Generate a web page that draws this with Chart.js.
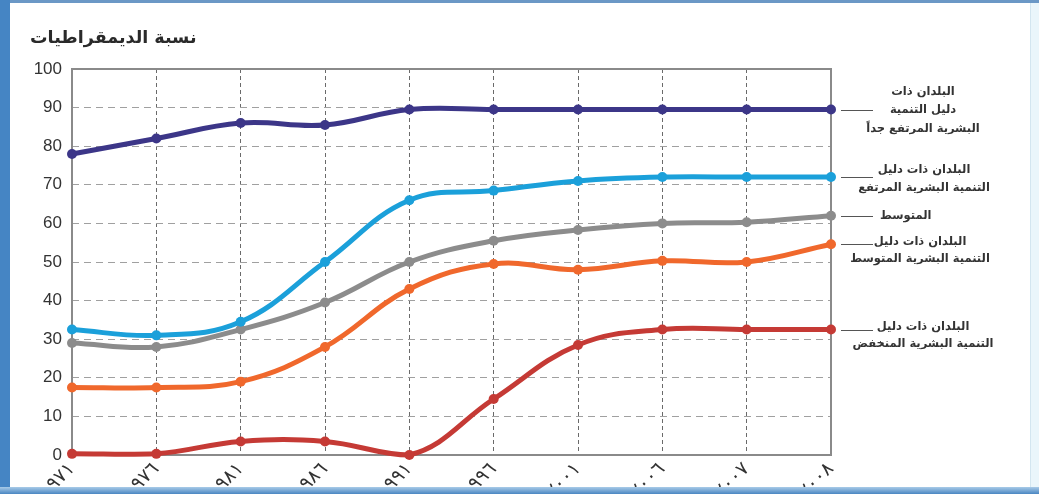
<!DOCTYPE html>
<html>
<head>
<meta charset="utf-8">
<script src="https://cdn.jsdelivr.net/npm/chart.js@4/dist/chart.umd.min.js"></script>
<style>
  html, body { margin: 0; padding: 0; width: 1039px; height: 494px; overflow: hidden; background: #fff; }
  #wrap { position: absolute; left: 0; top: 0; width: 1039px; height: 515px; }
  .edge { position: absolute; z-index: 2; }
</style>
</head>
<body>
<div id="wrap"><canvas id="c"></canvas></div>
<div class="edge" style="left:0;top:0;width:1039px;height:3px;background:#6b98c6"></div>
<div class="edge" style="left:0;top:0;width:10px;height:494px;background:#4585c4"></div>
<div class="edge" style="left:0;top:487px;width:1039px;height:7px;background:linear-gradient(#a8cbe8,#4a86c2)"></div>
<div class="edge" style="left:1030px;top:3px;width:9px;height:484px;background:#eaf6fb;border-left:1px solid #d3e6f0"></div>
<script>
// Years on the horizontal axis
const years = ['١٩٧١', '١٩٧٦', '١٩٨١', '١٩٨٦', '١٩٩١', '١٩٩٦', '٢٠٠١', '٢٠٠٦', '٢٠٠٧', '٢٠٠٨'];

// Share of democracies (%) by human development group
const veryHighHDI = [78, 82, 86, 85.5, 89.5, 89.5, 89.5, 89.5, 89.5, 89.5];
const highHDI     = [32.5, 31, 34.5, 50, 66, 68.5, 71, 72, 72, 72];
const averageAll  = [29, 28, 32.5, 39.5, 50, 55.5, 58.3, 60, 60.3, 62];
const mediumHDI   = [17.5, 17.5, 19, 28, 43, 49.5, 48, 50.3, 50, 54.6];
const lowHDI      = [0.3, 0.3, 3.5, 3.5, 0, 14.5, 28.5, 32.5, 32.5, 32.5];

// Series names as printed beside each line end
const nameVeryHigh = ['البلدان ذات', 'دليل التنمية', 'البشرية المرتفع جداً'];
const nameHigh     = ['البلدان ذات دليل', 'التنمية البشرية المرتفع'];
const nameAverage  = ['المتوسط'];
const nameMedium   = ['البلدان ذات دليل', 'التنمية البشرية المتوسط'];
const nameLow      = ['البلدان ذات دليل', 'التنمية البشرية المنخفض'];

const chartTitle = 'نسبة الديمقراطيات';

const ARABIC_FONT = '"DejaVu Sans", sans-serif';

function series(data, color) {
  return {
    data,
    borderColor: color,
    backgroundColor: color,
    pointBackgroundColor: color,
    pointBorderWidth: 0,
    pointRadius: 5,
    borderWidth: 5,
    tension: 0.4,
    clip: false
  };
}

// Line-end labels: text lines with vertical offsets relative to the last point
const endLabels = [
  { dataset: 0, lines: nameVeryHigh, dy: [-18, 0, 19], x: 923, align: 'center' },
  { dataset: 1, lines: nameHigh,     dy: [-7, 11],     x: 924, align: 'center' },
  { dataset: 2, lines: nameAverage,  dy: [0],          x: 880, align: 'left' },
  { dataset: 3, lines: nameMedium,   dy: [-2, 15],     x: 920, align: 'center' },
  { dataset: 4, lines: nameLow,      dy: [-3, 14],     x: 923, align: 'center' }
];

const decorations = {
  id: 'decorations',
  beforeDatasetsDraw(chart) {
    const { ctx, chartArea: a } = chart;
    ctx.save();
    ctx.strokeStyle = '#8a8a8a';
    ctx.lineWidth = 2;
    ctx.strokeRect(a.left, a.top, a.right - a.left, a.bottom - a.top);
    ctx.restore();
  },
  afterDatasetsDraw(chart) {
    const { ctx, chartArea: a } = chart;
    const yScale = chart.scales.y;
    ctx.save();
    // chart title
    ctx.direction = 'rtl';
    ctx.fillStyle = '#2a2a2a';
    ctx.font = 'bold 17.5px ' + ARABIC_FONT;
    ctx.textAlign = 'left';
    ctx.textBaseline = 'middle';
    ctx.fillText(chartTitle, 30, 38);

    ctx.font = 'bold 11.5px ' + ARABIC_FONT;
    endLabels.forEach(lbl => {
      const ds = chart.data.datasets[lbl.dataset].data;
      const y = Math.round(yScale.getPixelForValue(ds[ds.length - 1])) + 0.5;
      ctx.strokeStyle = '#555';
      ctx.lineWidth = 1;
      ctx.beginPath();
      ctx.moveTo(a.right + 10, y);
      ctx.lineTo(a.right + 42, y);
      ctx.stroke();
      ctx.fillStyle = '#333';
      ctx.textAlign = lbl.align;
      lbl.lines.forEach((t, i) => ctx.fillText(t, lbl.x, y + lbl.dy[i]));
    });
    ctx.restore();
  }
};

new Chart(document.getElementById('c'), {
  type: 'line',
  data: {
    labels: years,
    datasets: [
      series(veryHighHDI, '#3c3688'),
      series(highHDI, '#1ba0da'),
      series(averageAll, '#8c8c8c'),
      series(mediumHDI, '#f0682c'),
      series(lowHDI, '#c53a35')
    ]
  },
  options: {
    responsive: true,
    maintainAspectRatio: false,
    animation: false,
    events: [],
    layout: { padding: { left: 32, right: 208, top: 69, bottom: 0 } },
    plugins: { legend: { display: false }, tooltip: { enabled: false } },
    scales: {
      x: {
        type: 'category',
        offset: false,
        afterFit: s => { s.height = 60; },
        grid: {
          drawTicks: false,
          color: c => (c.index === 0 || c.index === years.length - 1) ? 'rgba(0,0,0,0)' : '#6a6a6a',
          lineWidth: 1
        },
        border: { display: false, dash: [4, 3] },
        ticks: {
          autoSkip: false,
          minRotation: 45,
          maxRotation: 45,
          padding: 3,
          color: '#333',
          font: { family: ARABIC_FONT, size: 19 }
        }
      },
      y: {
        min: 0,
        max: 100,
        afterFit: s => { s.width = 40; },
        grid: {
          drawTicks: false,
          color: c => (c.tick.value === 0 || c.tick.value === 100) ? 'rgba(0,0,0,0)' : '#a0a0a0',
          lineWidth: 1
        },
        border: { display: false, dash: [7, 5] },
        ticks: {
          stepSize: 10,
          padding: 10,
          color: '#333',
          font: { family: '"Liberation Sans", sans-serif', size: 17 }
        }
      }
    }
  },
  plugins: [decorations]
});
</script>
</body>
</html>
